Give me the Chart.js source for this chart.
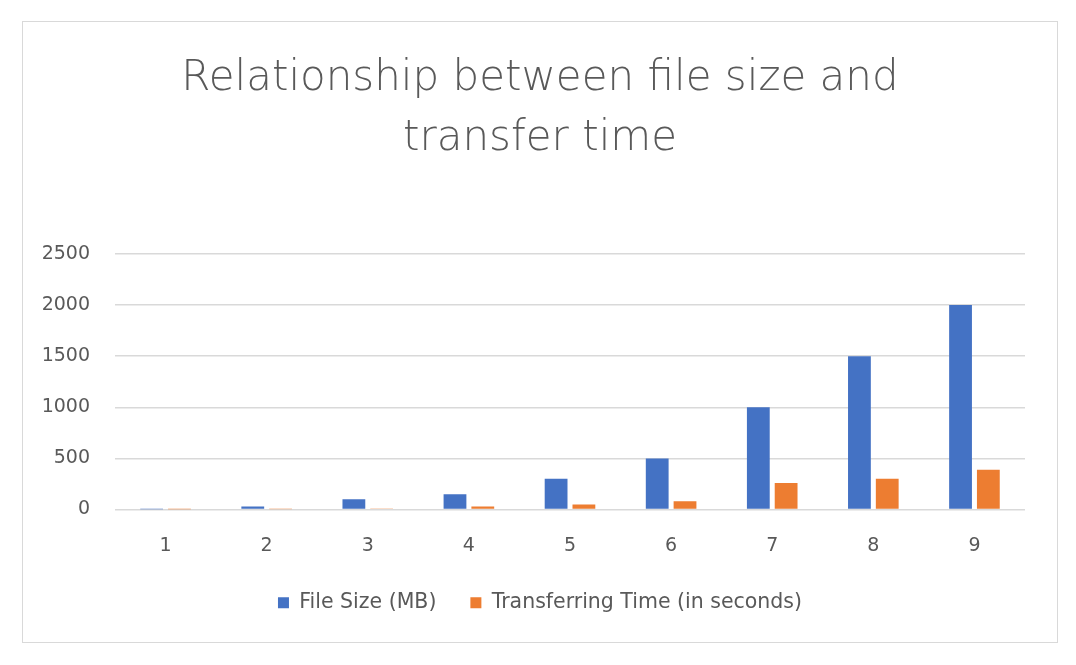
<!DOCTYPE html>
<html>
<head>
<meta charset="utf-8">
<script src="https://cdn.jsdelivr.net/npm/chart.js@4"></script>
<style>
  html, body { margin: 0; padding: 0; background: #fff; }
  #caixa {
    position: absolute; left: 22px; top: 21px;
    width: 1034px; height: 620px;
    border: 1px solid #d9d9d9;
  }
  canvas { display: block; }
</style>
</head>
<body>
<div id="caixa"><canvas id="grafico"></canvas></div>
<script>
  // dados
  const categorias = ['1', '2', '3', '4', '5', '6', '7', '8', '9'];
  const tamanhoArquivo = [1, 30, 100, 150, 300, 500, 1000, 1500, 2000];
  const tempoTransferencia = [0.1, 3, 10, 30, 50, 80, 260, 300, 390];
  const ticksY = [0, 500, 1000, 1500, 2000, 2500];

  const corTexto = '#595959';
  const fonte = 'DejaVu Sans';
  const ctx = document.getElementById('grafico').getContext('2d');

  new Chart(ctx, {
    type: 'bar',
    data: {
      labels: categorias,
      datasets: [{
        label: 'File Size (MB)',
        data: tamanhoArquivo,
        backgroundColor: '#4472c4',
        barPercentage: 0.82,
        categoryPercentage: 0.55
      }, {
        label: 'Transferring Time (in seconds)',
        data: tempoTransferencia,
        backgroundColor: '#ed7d31',
        barPercentage: 0.82,
        categoryPercentage: 0.55
      }]
    },
    options: {
      responsive: true,
      maintainAspectRatio: false,
      animation: false,
      layout: { padding: { left: 0, right: 0, top: 0, bottom: 19 } },
      plugins: {
        title: {
          display: true,
          text: ['Relationship between file size and', 'transfer time'],
          color: corTexto,
          font: { family: fonte, size: 42, weight: '200', lineHeight: 60 / 42 },
          padding: { top: 27, bottom: 85 }
        },
        legend: {
          position: 'bottom',
          labels: {
            color: corTexto,
            font: { family: fonte, size: 20.5, lineHeight: 1.2 },
            boxWidth: 11,
            boxHeight: 11,
            padding: 34
          }
        },
        tooltip: { enabled: false }
      },
      scales: {
        x: {
          grid: { display: false, drawTicks: false },
          border: { display: false },
          afterFit: scale => { scale.height = 49; },
          ticks: { color: corTexto, font: { family: fonte, size: 19 }, padding: 25 }
        },
        y: {
          min: 0,
          max: ticksY[ticksY.length - 1],
          afterBuildTicks: scale => { scale.ticks = ticksY.map(v => ({ value: v })); },
          afterFit: scale => { scale.width = 92; },
          grid: { color: '#d9d9d9', lineWidth: 1.5, drawTicks: false },
          border: { display: false },
          ticks: {
            color: corTexto,
            font: { family: fonte, size: 19 },
            padding: 25,
            callback: valor => String(valor)
          }
        },
        // margem direita da área do gráfico
        margemDireita: {
          position: 'right',
          grid: { display: false, drawTicks: false },
          border: { display: false },
          ticks: { display: false },
          afterFit: scale => { scale.width = 32; }
        }
      }
    }
  });
</script>
</body>
</html>
